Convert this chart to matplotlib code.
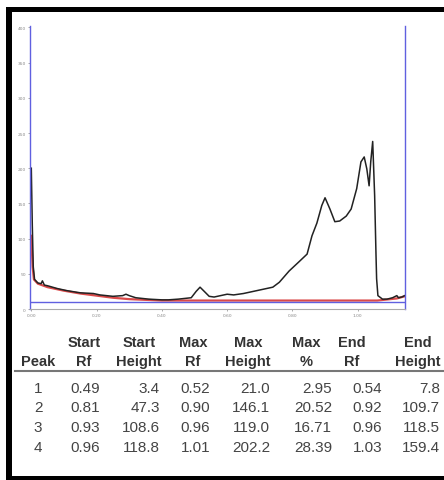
import matplotlib.pyplot as plt
from matplotlib.patches import Rectangle

# densitometry trace (Rf, height)
trace_rf = [0.000, 0.003, 0.006, 0.010, 0.020, 0.030, 0.034, 0.040, 0.05, 0.08, 0.11,
            0.15, 0.19, 0.21, 0.25, 0.28, 0.29, 0.30, 0.32, 0.36, 0.40, 0.42, 0.45,
            0.47, 0.49, 0.505, 0.517, 0.53, 0.545, 0.56, 0.58, 0.60, 0.62, 0.65, 0.67,
            0.70, 0.72, 0.74, 0.76, 0.79, 0.82, 0.845, 0.86, 0.875, 0.89, 0.90, 0.915,
            0.93, 0.945, 0.965, 0.98, 0.997, 1.01, 1.02, 1.028, 1.035, 1.04, 1.046,
            1.052, 1.056, 1.058, 1.062, 1.076, 1.09, 1.107, 1.12, 1.125, 1.135, 1.144]
trace_h = [200, 120, 60, 42, 37, 36, 40, 34, 33, 29, 26,
           23, 22, 20, 18, 19, 21, 19, 16, 14, 13, 13, 14,
           15, 16, 25, 31, 25, 18, 17, 19, 21, 20, 22, 24,
           27, 29, 31, 38, 54, 67, 78, 104, 122, 147, 158, 142,
           124, 125, 132, 142, 171, 209, 216, 199, 175, 209, 238,
           161, 80, 43, 19, 14, 14, 16, 19, 16, 17, 19]

# fitted background
bg_rf = [0.000, 0.004, 0.008, 0.02, 0.05, 0.10, 0.15, 0.20, 0.25, 0.30, 0.35, 0.40,
         1.06, 1.08, 1.12, 1.144]
bg_h = [104, 60, 42, 36, 31, 26, 22, 19, 16, 14, 13, 12, 12, 13, 15, 18]

baseline = 10
rf_ticks = [0.0, 0.2, 0.4, 0.6, 0.8, 1.0]
h_ticks = [0, 50, 100, 150, 200, 250, 300, 350, 400]

# peak table
headers_top = ["", "Start", "Start", "Max", "Max", "Max", "End", "End"]
headers_bot = ["Peak", "Rf", "Height", "Rf", "Height", "%", "Rf", "Height"]
peaks = ["1", "2", "3", "4"]
start_rf = ["0.49", "0.81", "0.93", "0.96"]
start_h = ["3.4", "47.3", "108.6", "118.8"]
max_rf = ["0.52", "0.90", "0.96", "1.01"]
max_h = ["21.0", "146.1", "119.0", "202.2"]
max_pct = ["2.95", "20.52", "16.71", "28.39"]
end_rf = ["0.54", "0.92", "0.96", "1.03"]
end_h = ["7.8", "109.7", "118.5", "159.4"]

W, H = 444, 481
fig = plt.figure(figsize=(W / 100, H / 100), dpi=100)

def px(x, y):
    return x / W, 1 - y / H

# black screenshot frame
for (x0, y0, w, h) in [(6, 8, 438, 5), (6, 8, 6, 473), (6, 477, 438, 4)]:
    fig.add_artist(Rectangle((x0 / W, 1 - (y0 + h) / H), w / W, h / H,
                             transform=fig.transFigure, color="black", lw=0))

ax = fig.add_axes([30 / W, 1 - 310 / H, 375 / W, 283 / H])
ax.plot(bg_rf, bg_h, color="#d42a2a", lw=1.6, alpha=0.85)
ax.plot(trace_rf, trace_h, color="#222222", lw=1.1)
ax.axhline(baseline, color="#6060e0", lw=1.0)
ax.set_xlim(-0.004, 1.145)
ax.set_ylim(0, 402)
ax.set_xticks(rf_ticks)
ax.set_xticklabels([f"{t:.2f}" for t in rf_ticks])
ax.set_yticks(h_ticks)
ax.tick_params(labelsize=3.2, colors="#888888", length=1.5, width=0.5, pad=1.5)
for s in ["left", "right"]:
    ax.spines[s].set_color("#6060e0")
    ax.spines[s].set_linewidth(1.0)
ax.spines["top"].set_visible(False)
ax.spines["bottom"].set_color("#aaaaaa")
ax.spines["bottom"].set_linewidth(0.8)

# table
fam = ["Liberation Sans Narrow", "Liberation Sans", "DejaVu Sans"]
head_x = [38, 84, 139, 193, 248, 306, 352, 418]
num_right = [100, 160, 210, 270, 332, 382, 440]
for i in range(8):
    for txt, y in [(headers_top[i], 343), (headers_bot[i], 362)]:
        if txt:
            fig.text(*px(head_x[i], y), txt, ha="center", va="center",
                     fontsize=10.5, fontweight="bold", color="#333333", family=fam)

fig.add_artist(plt.Line2D([15 / W, 1], [1 - 372 / H] * 2, transform=fig.transFigure,
                          color="#777777", lw=1.5))

cols = [start_rf, start_h, max_rf, max_h, max_pct, end_rf, end_h]
row_y = [389, 408, 428, 448]
for r, y in enumerate(row_y):
    fig.text(*px(38, y), peaks[r], ha="center", va="center", fontsize=11,
             color="#444444", family=fam)
    for c, col in enumerate(cols):
        fig.text(*px(num_right[c], y), col[r], ha="right", va="center",
                 fontsize=11, color="#444444", family=fam)

fig.savefig("out.png", dpi=100)
